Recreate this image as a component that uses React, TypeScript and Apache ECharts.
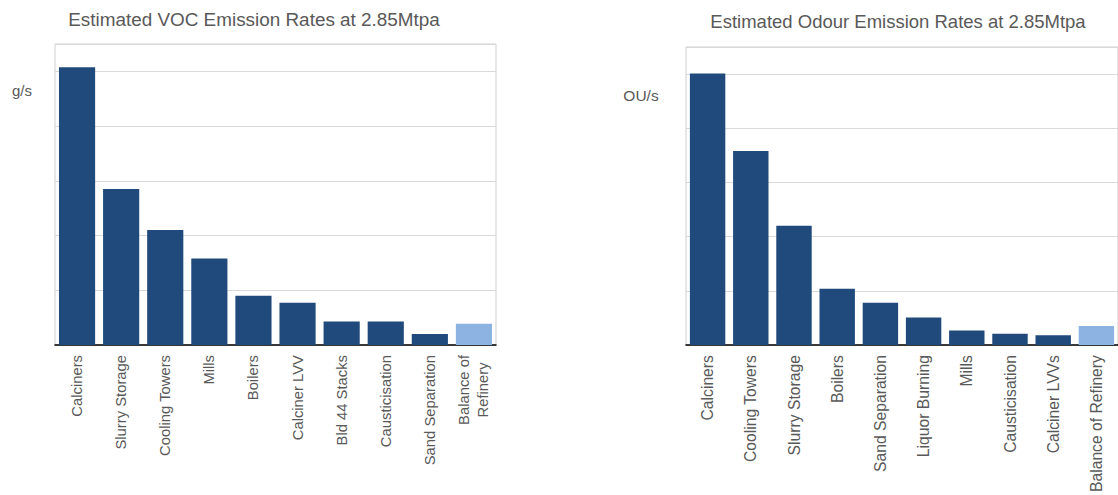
import React, { useEffect, useRef } from "react";
import * as echarts from "echarts";

const vocCategories = [
  "Calciners",
  "Slurry Storage",
  "Cooling Towers",
  "Mills",
  "Boilers",
  "Calciner LVV",
  "Bld 44 Stacks",
  "Causticisation",
  "Sand Separation",
  "Balance of\nRefinery",
];
const vocValues = [101.5, 57, 42, 31.6, 18, 15.4, 8.6, 8.6, 4, 7.8];

const odourCategories = [
  "Calciners",
  "Cooling Towers",
  "Slurry Storage",
  "Boilers",
  "Sand Separation",
  "Liquor Burning",
  "Mills",
  "Causticisation",
  "Calciner LVVs",
  "Balance of Refinery",
];
const odourValues = [100.2, 71.6, 44, 20.8, 15.6, 10.2, 5.4, 4.2, 3.6, 7];

const DARK = "#204a7c";
const LIGHT = "#8db3e2";
const FONT = "Liberation Sans, Arial, sans-serif";
const TEXT = "#595959";

function barData(values: number[]) {
  return values.map((v, i) =>
    i === values.length - 1
      ? { value: v, itemStyle: { color: LIGHT } }
      : { value: v, itemStyle: { color: DARK } }
  );
}

function xAxisFor(cats: string[], gridIndex: number, fontSize: number) {
  return {
    type: "category",
    gridIndex,
    data: cats,
    axisLine: { lineStyle: { color: "#000", width: 1.5 } },
    axisTick: { show: false },
    axisLabel: {
      rotate: 90,
      interval: 0,
      margin: 10,
      fontSize,
      fontFamily: FONT,
      color: TEXT,
      lineHeight: 19,
      formatter: (v: string) =>
        v.includes("\n")
          ? v
              .split("\n")
              .map((s) => "{c|" + s + "}")
              .join("\n")
          : v,
      rich: {
        c: { align: "center", fontSize, fontFamily: FONT, color: TEXT, lineHeight: 19 },
      },
    },
  };
}

function yAxisFor(gridIndex: number) {
  return {
    type: "value",
    gridIndex,
    min: 0,
    max: 110,
    interval: 20,
    axisLabel: { show: false },
    axisLine: { show: false },
    axisTick: { show: false },
    splitLine: { lineStyle: { color: "#d9d9d9", width: 1 } },
  };
}

export default function App() {
  const ref = useRef<HTMLDivElement>(null);
  useEffect(() => {
    if (!ref.current) return;
    const chart = echarts.init(ref.current, undefined, { renderer: "svg" });
    chart.setOption({
      animation: false,
      backgroundColor: "#fff",
      textStyle: { fontFamily: FONT },
      grid: [
        {
          left: 55,
          top: 44,
          width: 441,
          height: 301,
          show: true,
          borderColor: "#cfcfcf",
          borderWidth: 1,
        },
        {
          left: 686,
          top: 47,
          width: 441,
          height: 301,
          show: true,
          borderColor: "#cfcfcf",
          borderWidth: 1,
        },
      ],
      xAxis: [xAxisFor(vocCategories, 0, 14.8), xAxisFor(odourCategories, 1, 15.7)],
      yAxis: [yAxisFor(0), yAxisFor(1)],
      series: [
        {
          type: "bar",
          xAxisIndex: 0,
          yAxisIndex: 0,
          data: barData(vocValues),
          barCategoryGap: "18%",
        },
        {
          type: "bar",
          xAxisIndex: 1,
          yAxisIndex: 1,
          data: barData(odourValues),
          barCategoryGap: "18%",
        },
      ],
      graphic: [
        {
          type: "text",
          x: 254,
          y: 19,
          style: {
            text: "Estimated VOC Emission Rates at 2.85Mtpa",
            fontSize: 18.9,
            fontFamily: FONT,
            fill: TEXT,
            textAlign: "center",
            textVerticalAlign: "middle",
          },
        },
        {
          type: "text",
          x: 898,
          y: 21,
          style: {
            text: "Estimated Odour Emission Rates at 2.85Mtpa",
            fontSize: 18.5,
            fontFamily: FONT,
            fill: TEXT,
            textAlign: "center",
            textVerticalAlign: "middle",
          },
        },
        {
          type: "text",
          x: 22,
          y: 90,
          style: {
            text: "g/s",
            fontSize: 15,
            fontFamily: FONT,
            fill: TEXT,
            textAlign: "center",
            textVerticalAlign: "middle",
          },
        },
        {
          type: "text",
          x: 641,
          y: 95,
          style: {
            text: "OU/s",
            fontSize: 15.5,
            fontFamily: FONT,
            fill: TEXT,
            textAlign: "center",
            textVerticalAlign: "middle",
          },
        },
      ],
    });
    return () => chart.dispose();
  }, []);
  return (
    <div
      ref={ref}
      style={{ position: "fixed", left: 0, top: 0, width: 1118, height: 495 }}
    />
  );
}
